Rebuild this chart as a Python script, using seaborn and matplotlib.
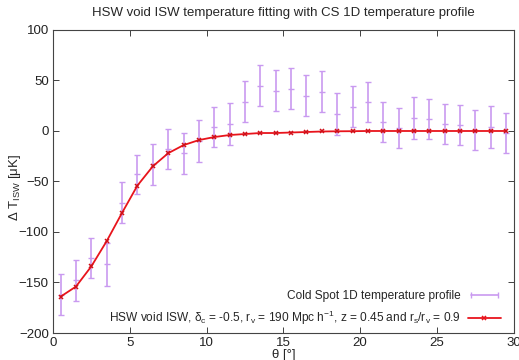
import numpy as np
import pandas as pd
import matplotlib
matplotlib.use('Agg')
import matplotlib.pyplot as plt
import seaborn as sns
from matplotlib.lines import Line2D
from matplotlib.legend_handler import HandlerLine2D

# 数据：Cold Spot 一维温度剖面（带误差）与 HSW void 模型
theta = [0.5, 1.5, 2.5, 3.5, 4.5, 5.5, 6.5, 7.5, 8.5, 9.5,
         10.5, 11.5, 12.5, 13.5, 14.5, 15.5, 16.5, 17.5, 18.5, 19.5,
         20.5, 21.5, 22.5, 23.5, 24.5, 25.5, 26.5, 27.5, 28.5, 29.5]
cs_temp = [-162, -148, -126, -132, -71, -43, -33, -18, -22, -10,
           4, 7, 29, 45, 40, 42, 35, 39, 17, 24,
           29, 9, 3, 13, 12, 7, 6, 1, 4, -2]
cs_err = [20, 20, 20, 21, 20.5, 19.5, 20, 20, 20.5, 20.5,
          20, 20.5, 20.5, 20, 20, 20.5, 20.5, 20.5, 20.5, 20.5,
          20, 20, 20, 20.5, 20, 20, 20, 20, 20.5, 20]
model_temp = [-164, -154, -134, -109, -81, -54, -35, -22, -14, -9,
              -6, -4, -3, -2, -2, -1.5, -1, -0.5, -0.3, -0.2,
              0, 0, 0, 0, 0, 0, 0, 0, 0, 0]

df = pd.DataFrame({'theta': theta, 'cs': cs_temp, 'err': cs_err, 'model': model_temp})

sns.set_style('ticks')
plt.rcParams['font.family'] = ['Liberation Sans', 'DejaVu Sans']
plt.rcParams['mathtext.fontset'] = 'custom'
plt.rcParams['mathtext.rm'] = 'Liberation Sans'
plt.rcParams['mathtext.it'] = 'Liberation Sans:italic'

violet = '#c99af0'
red = '#e8141c'

fig = plt.figure(figsize=(5.19, 3.60), dpi=100)
ax = fig.add_axes([0.102, 0.075, 0.888, 0.8417])

# 误差棒
ax.errorbar(df['theta'], df['cs'], yerr=df['err'], fmt='none', ecolor=violet,
            elinewidth=1.2, capsize=2.5, capthick=1.0, zorder=2)
ax.plot(df['theta'], df['cs'], ls='none', marker='_', ms=4, mew=1.0, color=violet, zorder=2)

# 模型曲线
sns.lineplot(data=df, x='theta', y='model', ax=ax, color=red, linewidth=1.3,
             marker='x', markersize=3.5, markeredgewidth=1.1, markeredgecolor='#d0101a',
             zorder=3, legend=False)

ax.set_xlim(0, 30)
ax.set_ylim(-200, 100)
ax.set_xticks(range(0, 31, 5))
ax.set_yticks(range(-200, 101, 50))
ax.tick_params(direction='in', top=True, right=True, length=4, width=0.6,
               labelsize=9.5, colors='#222222', pad=3)
for s in ax.spines.values():
    s.set_linewidth(0.8)
    s.set_color('#444444')

ax.set_title('HSW void ISW temperature fitting with CS 1D temperature profile',
             fontsize=9.5, pad=10)
ax.set_xlabel('θ [°]', fontsize=9.5, labelpad=0)
ax.set_ylabel(r'Δ T$_{\mathrm{ISW}}$ [μK]', fontsize=9.5)
ax.yaxis.set_label_coords(-0.066, 0.48)

# 图例（gnuplot 风格：文字在左，样例在右）
h1 = Line2D([], [], color=violet, lw=1.2, marker='|', ms=5, mew=1.0)
h2 = Line2D([], [], color=red, lw=1.3, marker='x', ms=3.5, mew=1.1)
leg = ax.legend([h1, h2],
                ['Cold Spot 1D temperature profile',
                 r'HSW void ISW, δ$_{\mathrm{c}}$ = -0.5, r$_{\mathrm{v}}$ = 190 Mpc h$^{-1}$, z = 0.45 and r$_{\mathrm{s}}$/r$_{\mathrm{v}}$ = 0.9'],
                loc='lower right', bbox_to_anchor=(0.996, -0.017), frameon=False,
                markerfirst=False, fontsize=8.6, handlelength=2.8, handletextpad=0.6,
                labelspacing=0.6,
                handler_map={h1: HandlerLine2D(numpoints=2), h2: HandlerLine2D(numpoints=1)})

plt.savefig('out.png', dpi=100)
